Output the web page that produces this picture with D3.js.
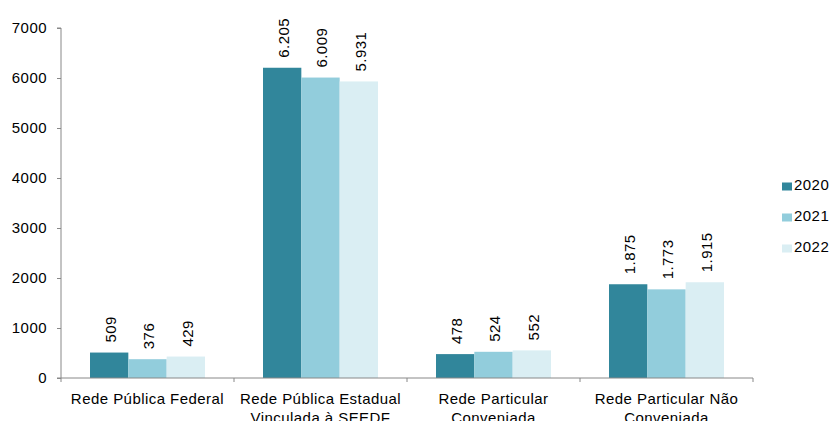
<!DOCTYPE html>
<html><head><meta charset="utf-8">
<script src="https://cdn.jsdelivr.net/npm/d3@7"></script>
<style>body{margin:0;background:#fff}svg{display:block}text{font-family:"Liberation Sans",Arial,sans-serif;letter-spacing:0.45px}</style>
</head><body><svg id="c" width="830" height="421"></svg>
<script>
const categories = [["Rede Pública Federal"],["Rede Pública Estadual","Vinculada à SEEDF"],["Rede Particular","Conveniada"],["Rede Particular Não","Conveniada"]];
const series = ["2020","2021","2022"];
const v2020 = [509, 6205, 478, 1875];
const v2021 = [376, 6009, 524, 1773];
const v2022 = [429, 5931, 552, 1915];
const labels2020 = ["509","6.205","478","1.875"];
const labels2021 = ["376","6.009","524","1.773"];
const labels2022 = ["429","5.931","552","1.915"];
const yTicks = [0,1000,2000,3000,4000,5000,6000,7000];
const colors = ["#31869B","#92CDDC","#DAEEF3"];

const values = [v2020, v2021, v2022];
const labs = [labels2020, labels2021, labels2022];
const svg = d3.select("#c");
const m = {l:61};
const FS = 15;
const x0 = d3.scaleBand().domain(d3.range(categories.length)).range([m.l, 753]).paddingInner(0).paddingOuter(0);
const x1 = d3.scaleBand().domain(series).range([29, x0.bandwidth()-29]).padding(0);
const y = d3.scaleLinear().domain([0,7000]).range([378, 28]);

// bars
categories.forEach((c,i)=>{
  const g = svg.append("g").attr("transform",`translate(${x0(i)},0)`);
  series.forEach((s,j)=>{
    g.append("rect").attr("x",x1(s)).attr("y",y(values[j][i])).attr("width",x1.bandwidth()).attr("height",y(0)-y(values[j][i])).attr("fill",colors[j]);
    const cx = x1(s)+x1.bandwidth()/2+3;
    const ty = y(values[j][i])-10;
    g.append("text").attr("transform",`translate(${cx},${ty}) rotate(-90)`).attr("dominant-baseline","middle").attr("text-anchor","start").attr("font-size",FS).attr("fill","#000").text(labs[j][i]);
  });
});

// y axis
const ya = svg.append("g").attr("transform",`translate(${m.l},0)`).call(d3.axisLeft(y).tickValues(yTicks).tickSize(4).tickPadding(10).tickFormat(d3.format("d")));
ya.select(".domain").attr("stroke","#888").attr("d",`M-4,${y(0)}H0V${y(7000)}H-4`);
ya.selectAll(".tick line").attr("stroke","#888");
ya.selectAll(".tick text").attr("font-size",FS).attr("fill","#000").attr("font-family","Liberation Sans, Arial, sans-serif");

// x axis
const xa = svg.append("g").attr("transform",`translate(0,${y(0)})`);
xa.append("line").attr("x1",m.l).attr("x2",753).attr("stroke","#888");
d3.range(categories.length+1).forEach(i=>{
  const xx = i<categories.length ? x0(i) : x0(i-1)+x0.bandwidth();
  xa.append("line").attr("x1",xx).attr("x2",xx).attr("y1",0).attr("y2",4).attr("stroke","#888");
});
categories.forEach((c,i)=>{
  const t = xa.append("text").attr("text-anchor","middle").attr("font-size",FS).attr("fill","#000");
  c.forEach((line,k)=>{
    t.append("tspan").attr("x",x0(i)+x0.bandwidth()/2).attr("y",26+k*19).text(line);
  });
});

// legend
series.forEach((s,j)=>{
  const ly = 186.5 + j*31;
  svg.append("rect").attr("x",782).attr("y",ly-4).attr("width",10).attr("height",8).attr("fill",colors[j]);
  svg.append("text").attr("x",794).attr("y",ly).attr("dominant-baseline","middle").attr("font-size",FS).attr("fill","#000").text(s);
});
</script></body></html>
